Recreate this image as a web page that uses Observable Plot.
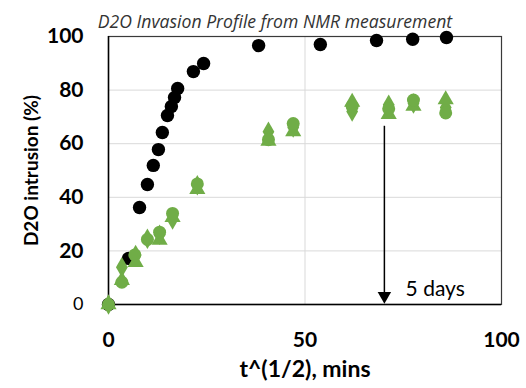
<!DOCTYPE html>
<html>
<head>
<meta charset="utf-8">
<script src="https://cdn.jsdelivr.net/npm/d3@7"></script>
<script src="https://cdn.jsdelivr.net/npm/@observablehq/plot@0.6"></script>
<style>
  html, body { margin: 0; padding: 0; background: #fff; }
  #chart svg { display: block; }
</style>
</head>
<body>
<div id="chart"></div>
<script>
// Data
const titleText = "D2O Invasion Profile from NMR measurement";
const xLabel = "t^(1/2), mins";
const yLabel = "D2O intrusion (%)";
const xTicks = [0, 50, 100];
const yTicksBold = [20, 40, 60, 80, 100];
const yTickZero = [0];

const blackX = [0, 5.1, 7.9, 9.9, 11.4, 12.7, 13.7, 15.0, 16.0, 16.8, 17.6, 21.6, 24.2, 38.2, 53.9, 68.2, 77.4, 86.0];
const blackY = [0, 17.2, 36.2, 44.8, 51.9, 57.8, 64.2, 70.5, 73.9, 77.2, 80.6, 86.9, 89.9, 96.6, 97.0, 98.5, 99.0, 99.6];

const circX = [0, 3.4, 6.7, 9.9, 13.0, 16.3, 22.6, 40.7, 47.0, 62.0, 71.3, 77.6, 85.8];
const circY = [0, 8.3, 18.5, 24.3, 27.0, 34.0, 45.0, 61.5, 67.5, 74.0, 73.0, 76.3, 71.5];

const triX = [0, 3.4, 6.9, 13.0, 16.3, 22.6, 40.7, 47.0, 62.0, 71.3, 77.6, 85.8];
const triY = [0, 9.0, 15.7, 24.0, 32.5, 43.0, 61.0, 64.5, 75.5, 71.0, 74.0, 76.5];

const diaX = [0, 3.4, 6.9, 9.9, 13.0, 16.3, 22.6, 40.7, 47.0, 62.0, 71.3, 77.6, 85.8];
const diaY = [0, 13.9, 18.5, 24.5, 26.0, 31.7, 44.5, 64.5, 66.0, 72.0, 74.5, 75.0, 73.5];

const arrowX = [70.2];
const arrowTop = [66.5];
const arrowTipY = [3.2];
const noteText = "5 days";
const noteX = [75.6];
const noteY = [5.8];

const toPts = (xs, ys) => xs.map((x, i) => ({x, y: ys[i]}));
const black = toPts(blackX, blackY);
const circ = toPts(circX, circY);
const tri = toPts(triX, triY);
const dia = toPts(diaX, diaY);

const GREEN = "#70AD47";
const FONT = "Lato, 'Open Sans', sans-serif";

const plot = Plot.plot({
  width: 526,
  height: 388,
  marginLeft: 108,
  marginRight: 25,
  marginTop: 36,
  marginBottom: 84,
  style: {fontFamily: FONT, background: "#fff", overflow: "visible"},
  x: {domain: [0, 100]},
  y: {domain: [0, 100]},
  marks: [
    Plot.gridY([20, 40, 60, 80], {stroke: "#d9d9d9", strokeOpacity: 1, strokeWidth: 1}),
    Plot.gridX([50], {stroke: "#d9d9d9", strokeOpacity: 1, strokeWidth: 1}),
    Plot.frame({stroke: "#3a3a3a", strokeWidth: 1.2}),
    Plot.ruleX([0], {stroke: "#000", strokeWidth: 1.5}),
    Plot.ruleY([0], {stroke: "#000", strokeWidth: 1.5}),
    Plot.axisX(xTicks, {tickSize: 0, tickPadding: 28, fontSize: 21, fontWeight: "bold", fill: "#000",
      label: null}),
    Plot.axisY(yTicksBold, {tickSize: 0, tickPadding: 25, fontSize: 21, fontWeight: "bold", fill: "#000",
      label: null}),
    Plot.axisY(yTickZero, {tickSize: 0, tickPadding: 25, fontSize: 18, fill: "#000", label: null}),
    Plot.text([xLabel], {frameAnchor: "bottom", dy: 72, fontSize: 23, fontWeight: "bold", fill: "#000"}),
    Plot.text([yLabel], {frameAnchor: "left", textAnchor: "middle", dx: -77, rotate: -90, fontSize: 19, fontWeight: "bold", fill: "#000"}),
    Plot.text([titleText], {frameAnchor: "top", dx: -30, dy: -21, fontSize: 17.6, fontStyle: "italic", fill: "#333",
      fontFamily: "'Open Sans', sans-serif"}),
    Plot.dot(black, {x: "x", y: "y", r: 6.7, fill: "#000", symbol: "circle"}),
    Plot.dot(dia, {x: "x", y: "y", r: 6.2, fill: GREEN, symbol: "diamond"}),
    Plot.dot(tri, {x: "x", y: "y", r: 6.0, fill: GREEN, symbol: "triangle"}),
    Plot.dot(circ, {x: "x", y: "y", r: 6.5, fill: GREEN, symbol: "circle"}),
    Plot.ruleX(arrowX, {y1: arrowTop, y2: arrowTipY, stroke: "#000", strokeWidth: 1.5}),
    Plot.dot(arrowX, {x: d => d, y: arrowTipY, r: 5, symbol: "triangle", rotate: 180, fill: "#000"}),
    Plot.text([noteText], {x: noteX, y: noteY, textAnchor: "start", fontSize: 21, fill: "#000"})
  ]
});
document.getElementById("chart").appendChild(plot);
</script>
</body>
</html>
